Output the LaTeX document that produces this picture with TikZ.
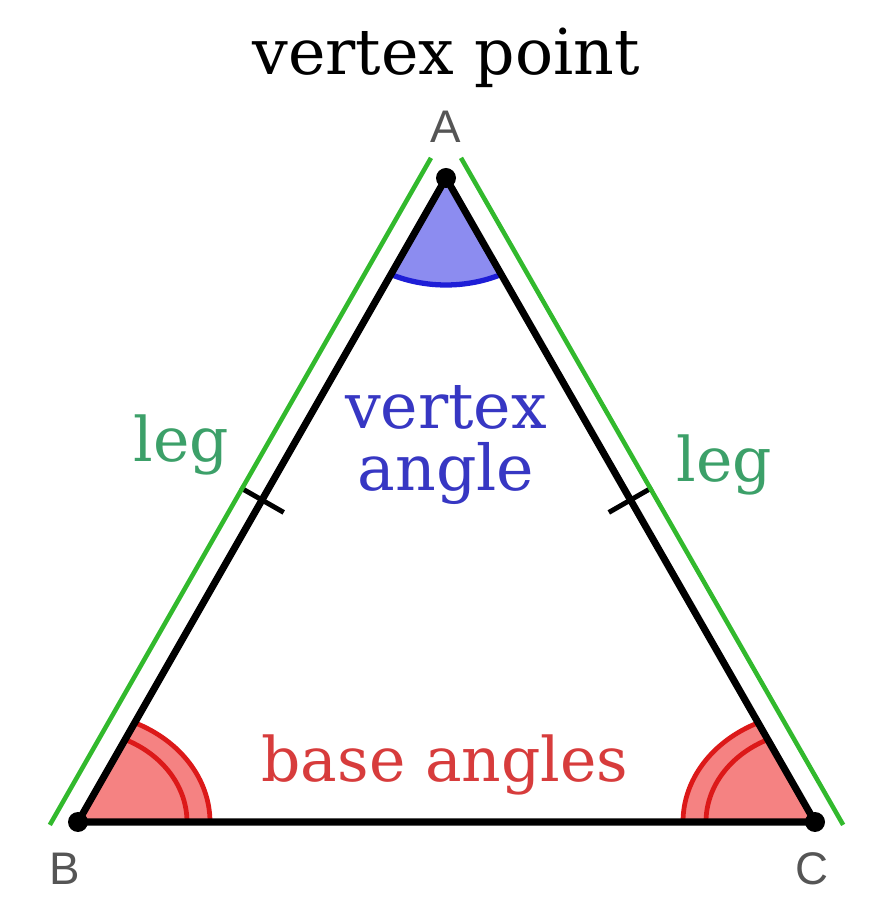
\documentclass[tikz,border=0pt]{standalone}
\usepackage{fontspec}
\setmainfont{DejaVu Serif}
\newfontfamily\ptfont{Liberation Sans}
\usetikzlibrary{calc}
\definecolor{legcolor}{RGB}{50,185,45}
\definecolor{legtext}{RGB}{60,160,105}
\definecolor{vtxfill}{RGB}{140,140,240}
\definecolor{vtxline}{RGB}{30,30,215}
\definecolor{vtxtext}{RGB}{55,55,195}
\definecolor{basefill}{RGB}{245,130,130}
\definecolor{basered}{RGB}{220,25,25}
\definecolor{basetext}{RGB}{215,60,60}
\definecolor{ptgray}{RGB}{85,85,85}
\tikzset{
  side/.style     = {line width=4pt, line cap=round, line join=round},
  legline/.style  = {draw=legcolor, line width=2.6pt},
  tickmark/.style = {line width=2.8pt},
  vtxarc/.style   = {draw=vtxline, line width=3pt},
  basearc/.style  = {draw=basered, line width=2.7pt},
  lbl/.style      = {font=\fontsize{35}{31}\selectfont, inner sep=0pt, anchor=base},
  ptlbl/.style    = {font=\ptfont\fontsize{26}{30}\selectfont, text=ptgray,
                     inner sep=0pt, anchor=base},
}

\begin{document}
\begin{tikzpicture}
  \useasboundingbox (0,0) rectangle (17.4,18.12);
  \coordinate (A) at (8.92,14.56);
  \coordinate (B) at (1.56,1.68);
  \coordinate (C) at (16.30,1.68);
  \coordinate (mAB) at ($(A)!0.5!(B)$);
  \coordinate (mAC) at ($(A)!0.5!(C)$);

  % angle marks
  \path (A) ++(244.35:2.55cm and 2.14cm) coordinate (v1);
  \fill[vtxfill] (A) -- (v1)
    arc[start angle=244.35, end angle=295.65, x radius=2.55cm, y radius=2.14cm] -- cycle;
  \draw[vtxarc] (v1)
    arc[start angle=244.35, end angle=295.65, x radius=2.55cm, y radius=2.14cm];
  \fill[basefill] (B) -- ++(2.64,0)
    arc[start angle=0, end angle=64.35, x radius=2.64cm, y radius=2.2cm] -- cycle;
  \draw[basearc] (B) ++(2.64,0)
    arc[start angle=0, end angle=64.35, x radius=2.64cm, y radius=2.2cm];
  \draw[basearc] (B) ++(2.18,0)
    arc[start angle=0, end angle=64.35, x radius=2.18cm, y radius=1.83cm];
  \fill[basefill] (C) -- ++(-2.64,0)
    arc[start angle=180, end angle=115.65, x radius=2.64cm, y radius=2.2cm] -- cycle;
  \draw[basearc] (C) ++(-2.64,0)
    arc[start angle=180, end angle=115.65, x radius=2.64cm, y radius=2.2cm];
  \draw[basearc] (C) ++(-2.18,0)
    arc[start angle=180, end angle=115.65, x radius=2.18cm, y radius=1.83cm];

  % triangle
  \draw[side] (A) -- (B) -- (C) -- cycle;
  \foreach \p in {A,B,C} \fill (\p) circle (0.2);
  \draw[tickmark] ($(mAB)!0.5cm!90:(A)$) -- ($(mAB)!0.5cm!-90:(A)$);
  \draw[tickmark] ($(mAC)!0.5cm!90:(A)$) -- ($(mAC)!0.5cm!-90:(A)$);

  % legs
  \coordinate (lB) at ($(B)!0.46cm!90:(A)$);
  \coordinate (lA) at ($(A)!0.46cm!-90:(B)$);
  \coordinate (rC) at ($(C)!0.46cm!-90:(A)$);
  \coordinate (rA) at ($(A)!0.46cm!90:(C)$);
  \draw[legline, shorten <=-0.33cm, shorten >=-0.2cm] (lB) -- (lA);
  \draw[legline, shorten <=-0.33cm, shorten >=-0.2cm] (rC) -- (rA);

  % labels
  \node[lbl, font=\fontsize{36}{31}\selectfont] (top) at (8.92,16.62) {vertex point};
  \node[ptlbl] (labA) at (8.92,15.26) {A};
  \node[ptlbl] (labB) at (1.30,0.42) {B};
  \node[ptlbl] (labC) at (16.24,0.42) {C};
  \node[lbl, font=\fontsize{36}{31}\selectfont, text=vtxtext] (vangTop) at (8.92,9.55) {vertex};
  \node[lbl, font=\fontsize{36}{31}\selectfont, text=vtxtext] (vangBot) at (8.92,8.31) {angle};
  \node[lbl, text=legtext] (legL) at (3.63,8.88) {leg};
  \node[lbl, text=legtext] (legR) at (14.49,8.48) {leg};
  \node[lbl, text=basetext] (bang) at (8.90,2.48) {base angles};
\end{tikzpicture}
\end{document}
